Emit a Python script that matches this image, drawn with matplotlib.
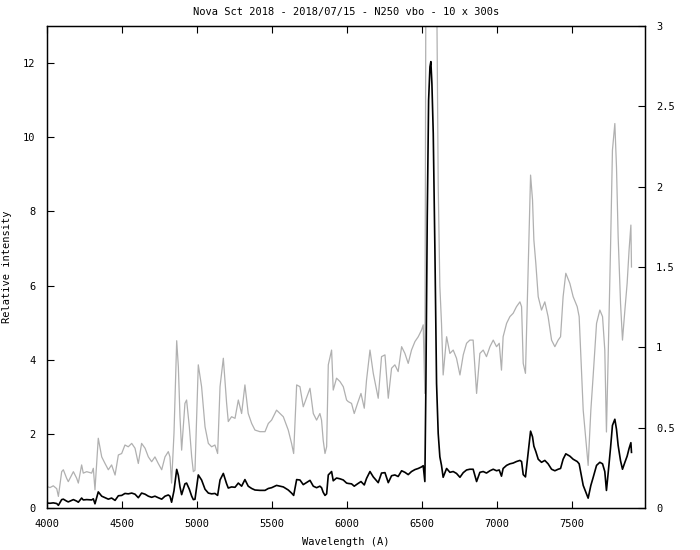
import matplotlib
matplotlib.use('Agg')
import matplotlib.pyplot as plt
import numpy as np

# Spectrum (wavelength in A, relative intensity)
wavelength = [
    4000, 4022, 4044, 4067, 4078, 4100, 4111, 4133, 4144, 4178, 4200, 4211, 4233, 4244,
    4267, 4300, 4311, 4322, 4344, 4367, 4389, 4411, 4433, 4456, 4478, 4500, 4522, 4544,
    4567, 4589, 4611, 4633, 4656, 4678, 4700, 4722, 4744, 4767, 4789, 4811, 4822, 4833,
    4849, 4867, 4878, 4889, 4900, 4922, 4933, 4951, 4967, 4978, 4989, 5011, 5033, 5056,
    5078, 5100, 5122, 5140, 5156, 5178, 5200, 5211, 5233, 5256, 5278, 5300, 5322, 5344,
    5367, 5389, 5422, 5456, 5478, 5500, 5533, 5578, 5611, 5633, 5647, 5667, 5689, 5711,
    5756, 5778, 5800, 5822, 5833, 5844, 5856, 5867, 5878, 5900, 5911, 5933, 5956, 5978,
    6000, 6011, 6033, 6051, 6073, 6096, 6118, 6133, 6156, 6178, 6200, 6211, 6233, 6256,
    6278, 6300, 6322, 6344, 6367, 6389, 6411, 6433, 6456, 6478, 6500, 6511, 6522, 6529,
    6538, 6547, 6556, 6562, 6569, 6578, 6589, 6600, 6611, 6622, 6633, 6644, 6667, 6689,
    6711, 6733, 6756, 6778, 6800, 6822, 6844, 6867, 6889, 6911, 6933, 6956, 6978, 7000,
    7018, 7033, 7044, 7067, 7089, 7111, 7133, 7156, 7167, 7178, 7193, 7211, 7227, 7240,
    7249, 7262, 7278, 7300, 7322, 7344, 7367, 7389, 7411, 7427, 7444, 7462, 7489, 7511,
    7538, 7551, 7578, 7600, 7611, 7629, 7644, 7667, 7689, 7707, 7722, 7733, 7744, 7760,
    7773, 7789, 7800, 7811, 7827, 7840, 7856, 7871, 7884, 7896, 7900,
]
intensity = [
    0.134, 0.127, 0.138, 0.120, 0.072, 0.226, 0.238, 0.185, 0.164, 0.226, 0.185, 0.155, 0.268, 0.217,
    0.226, 0.217, 0.247, 0.113, 0.434, 0.318, 0.277, 0.238, 0.268, 0.205, 0.330, 0.339, 0.392, 0.381,
    0.402, 0.372, 0.277, 0.402, 0.372, 0.318, 0.288, 0.318, 0.277, 0.238, 0.318, 0.351, 0.318, 0.155,
    0.466, 1.041, 0.879, 0.568, 0.360, 0.651, 0.672, 0.508, 0.318, 0.226, 0.235, 0.891, 0.755, 0.505,
    0.402, 0.381, 0.392, 0.339, 0.755, 0.932, 0.651, 0.538, 0.568, 0.558, 0.672, 0.588, 0.766, 0.588,
    0.526, 0.485, 0.475, 0.475, 0.526, 0.547, 0.609, 0.568, 0.485, 0.402, 0.339, 0.766, 0.755, 0.630,
    0.745, 0.588, 0.547, 0.588, 0.547, 0.422, 0.339, 0.381, 0.891, 0.983, 0.734, 0.808, 0.787, 0.755,
    0.672, 0.662, 0.651, 0.588, 0.651, 0.713, 0.621, 0.796, 0.983, 0.838, 0.734, 0.683, 0.942, 0.953,
    0.683, 0.870, 0.891, 0.849, 1.004, 0.962, 0.900, 0.983, 1.036, 1.066, 1.108, 1.140, 0.713, 3.36,
    7.86, 11.0, 11.9, 12.04, 11.45, 10.1, 6.96, 3.36, 2.01, 1.38, 1.149, 0.828, 1.066, 0.962,
    0.983, 0.932, 0.828, 0.953, 1.025, 1.045, 1.045, 0.713, 0.962, 0.983, 0.942, 1.004, 1.045, 1.004,
    1.025, 0.858, 1.066, 1.149, 1.191, 1.212, 1.253, 1.283, 1.253, 0.900, 0.838, 1.482, 2.072, 1.918,
    1.668, 1.523, 1.315, 1.232, 1.283, 1.191, 1.045, 1.004, 1.045, 1.066, 1.315, 1.461, 1.398, 1.315,
    1.253, 1.191, 0.609, 0.381, 0.265, 0.609, 0.817, 1.149, 1.232, 1.191, 0.983, 0.473, 0.921, 1.606,
    2.227, 2.393, 2.123, 1.689, 1.274, 1.045, 1.232, 1.398, 1.606, 1.761, 1.500,
]

xticks = [4000, 4500, 5000, 5500, 6000, 6500, 7000, 7500]
yticks = [0, 2, 4, 6, 8, 10, 12]
y2ticks = [0, 0.5, 1, 1.5, 2, 2.5, 3]
y2labels = ['0', '0.5', '1', '1.5', '2', '2.5', '3']

plt.rcParams['font.family'] = 'DejaVu Sans Mono'
plt.rcParams['font.size'] = 7.5

fig = plt.figure(figsize=(7, 5.5), dpi=100)
ax = fig.add_axes([0.0667, 0.0764, 0.8547, 0.8763])
ax2 = ax.twinx()

# gray: same spectrum on the magnified right axis
ax2.plot(wavelength, intensity, color='#b0b0b0', lw=0.9)
ax.plot(wavelength, intensity, color='black', lw=1.2)
ax.set_zorder(ax2.get_zorder() + 1)
ax.patch.set_visible(False)

ax.set_xlim(4000, 7990)
ax.set_ylim(0, 13)
ax2.set_ylim(0, 3)

ax.set_xticks(xticks)
ax.set_yticks(yticks)
ax2.set_yticks(y2ticks)
ax2.set_yticklabels(y2labels)

ax.tick_params(axis='x', direction='in', top=True, length=5, width=0.8, pad=8)
ax.tick_params(axis='y', direction='in', right=False, length=5, width=0.8, pad=8)
ax2.tick_params(axis='y', direction='in', length=5, width=0.8, pad=8)

for a in (ax, ax2):
    for s in a.spines.values():
        s.set_linewidth(0.9)

ax.set_title('Nova Sct 2018 - 2018/07/15 - N250 vbo - 10 x 300s', fontsize=7.5, pad=8)
ax.set_xlabel('Wavelength (A)', labelpad=6)
ax.set_ylabel('Relative intensity', labelpad=8)

fig.savefig('out.png', dpi=100)
